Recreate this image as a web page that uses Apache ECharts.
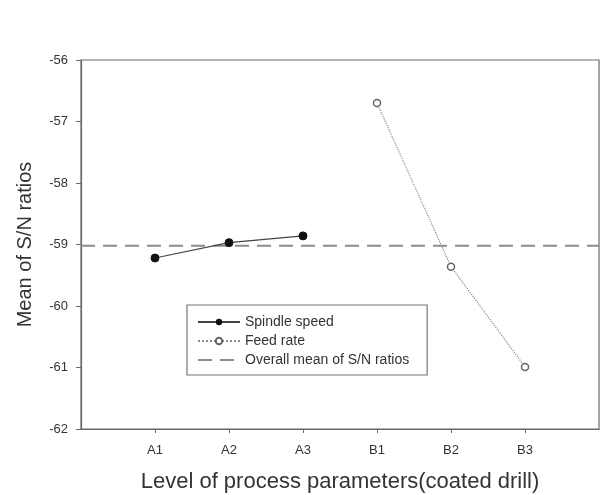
<!DOCTYPE html>
<html>
<head>
<meta charset="utf-8">
<script src="https://cdn.jsdelivr.net/npm/echarts@6/dist/echarts.min.js"></script>
<style>
  html, body { margin: 0; padding: 0; background: #fff; }
  #main { width: 610px; height: 495px; }
</style>
</head>
<body>
<div id="main"></div>
<script>
var levels = ['A1', 'A2', 'A3', 'B1', 'B2', 'B3'];
var spindleSpeed = [-59.22, -58.97, -58.86];
var feedRate = [-56.70, -59.36, -60.99];
var overallMean = -59.02;

var font = 'Liberation Sans';
var spindleData = spindleSpeed.map(function (v, i) { return [i + 1, v]; });
var feedData = feedRate.map(function (v, i) { return [i + 4, v]; });

var myChart = echarts.init(document.getElementById('main'));
var option = {
    animation: false,
    textStyle: { fontFamily: font },
    grid: {
        left: 81, right: 11, top: 60, bottom: 66,
        outerBoundsMode: 'none',
        containLabel: false,
        show: true,
        borderColor: '#6a6a6a',
        borderWidth: 1.2
    },
    legend: {
        left: 187, top: 305,
        orient: 'vertical',
        padding: [10, 18, 8, 10],
        itemGap: 5,
        itemWidth: 42,
        itemHeight: 8,
        borderColor: '#777',
        borderWidth: 1.2,
        textStyle: { fontSize: 14, color: '#333', fontFamily: font },
        data: [
            'Spindle speed',
            'Feed rate',
            { name: 'Overall mean of S/N ratios', itemStyle: { opacity: 0 } }
        ]
    },
    xAxis: {
        type: 'value',
        min: 0, max: 7, interval: 1,
        name: 'Level of process parameters(coated drill)',
        nameLocation: 'middle',
        nameGap: 42,
        nameTextStyle: { fontSize: 22, color: '#333', fontFamily: font },
        splitLine: { show: false },
        axisLine: { lineStyle: { color: '#6a6a6a', width: 1.2 } },
        axisTick: { show: true, length: 4, lineStyle: { color: '#6a6a6a' }, customValues: [1, 2, 3, 4, 5, 6] },
        axisLabel: {
            margin: 15, fontSize: 13, color: '#333',
            customValues: [1, 2, 3, 4, 5, 6],
            formatter: function (v) { return levels[v - 1] || ''; }
        }
    },
    yAxis: {
        type: 'value',
        min: -62, max: -56, interval: 1,
        name: 'Mean of S/N ratios',
        nameLocation: 'middle',
        nameGap: 46,
        nameTextStyle: { fontSize: 20, color: '#333', fontFamily: font },
        splitLine: { show: false },
        axisLine: { lineStyle: { color: '#6a6a6a', width: 1.2 } },
        axisTick: { show: true, length: 5, lineStyle: { color: '#6a6a6a' } },
        axisLabel: { margin: 13, fontSize: 13, color: '#333' }
    },
    series: [{
        name: 'Spindle speed',
        type: 'line',
        data: spindleData,
        symbol: 'circle',
        symbolSize: 8,
        itemStyle: { color: '#111', borderColor: '#111' },
        lineStyle: { color: '#444', width: 1.2 },
        z: 3
    }, {
        name: 'Feed rate',
        type: 'line',
        data: feedData,
        symbol: 'circle',
        symbolSize: 7,
        itemStyle: { color: '#fff', borderColor: '#666', borderWidth: 1.5 },
        lineStyle: { color: '#888', width: 1.2, type: 'dotted' },
        z: 3
    }, {
        name: 'Overall mean of S/N ratios',
        type: 'line',
        data: [[0, overallMean], [7, overallMean]],
        symbol: 'none',
        itemStyle: { color: '#8c8c8c' },
        lineStyle: { color: '#8c8c8c', width: 2, type: [14, 8] },
        z: 2
    }]
};
myChart.setOption(option);
</script>
</body>
</html>
